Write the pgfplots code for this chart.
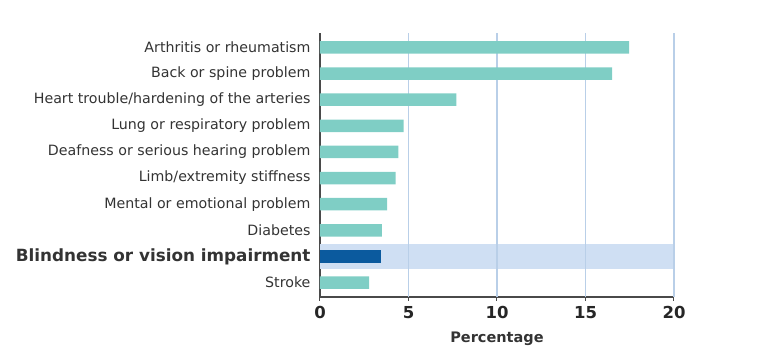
\documentclass[border=0pt]{standalone}
\usepackage{pgfplots}
\pgfplotsset{compat=1.18}
\usepackage{fontspec}
\setmainfont{DejaVu Sans}
\definecolor{barteal}{HTML}{7FCEC5}
\definecolor{bardark}{HTML}{0B5A9E}
\definecolor{bandblue}{HTML}{CFDFF3}
\definecolor{gridblue}{HTML}{B9CFE8}
\definecolor{axisgray}{HTML}{4A4A4A}
\definecolor{labelgray}{HTML}{333333}
\begin{document}
\begin{tikzpicture}
\begin{axis}[
  name=ax,
  width=354pt, height=264pt, scale only axis,
  xmin=0, xmax=20, ymin=-0.55, ymax=9.55,
  axis x line*=bottom, axis y line*=left,
  axis line style={draw=axisgray, line width=1.5pt, -},
  xtick={0,5,10,15,20},
  xtick align=outside,
  x tick style={draw=axisgray, line width=1pt},
  major tick length=4pt,
  ytick={0,1,2,3,4,5,6,7,8,9},
  y tick style={draw=none},
  yticklabels={Stroke,{\fontsize{16.8}{16.8}\selectfont\textbf{Blindness or vision impairment}},Diabetes,Mental or emotional problem,Limb/extremity stiffness,Deafness or serious hearing problem,Lung or respiratory problem,Heart trouble/hardening of the arteries,Back or spine problem,Arthritis or rheumatism},
  /pgf/number format/assume math mode=true,
  x tick label style={font=\bfseries\fontsize{16.5}{16.5}\selectfont, text=black!85, yshift=-2pt},
  y tick label style={font=\fontsize{14.2}{14.2}\selectfont, text=labelgray, xshift=-6pt},
  xlabel={\textbf{Percentage}},
  xlabel style={font=\fontsize{14.5}{14.5}\selectfont, text=labelgray, yshift=-6pt},
  clip=false,
]
\addplot[xbar, bar shift=0pt, bar width=25pt, fill=bandblue, draw=none] coordinates {(20,1)};
\draw[gridblue, line width=1.6pt] (axis cs:5,-0.55) -- (axis cs:5,9.55);
\draw[gridblue, line width=1.6pt] (axis cs:10,-0.55) -- (axis cs:10,9.55);
\draw[gridblue, line width=1.6pt] (axis cs:15,-0.55) -- (axis cs:15,9.55);
\draw[gridblue, line width=1.6pt] (axis cs:20,-0.55) -- (axis cs:20,9.55);
\addplot[xbar, bar shift=0pt, bar width=12.5pt, fill=barteal, draw=none] coordinates {
 (2.77,0) (3.5,2) (3.79,3) (4.27,4) (4.43,5) (4.73,6) (7.7,7) (16.5,8) (17.46,9)};
\addplot[xbar, bar shift=0pt, bar width=12.5pt, fill=bardark, draw=none] coordinates {(3.43,1)};
\end{axis}
\path (ax.south west) ++(-320pt,-66pt) rectangle ++(768pt,363pt);
\end{tikzpicture}
\end{document}
